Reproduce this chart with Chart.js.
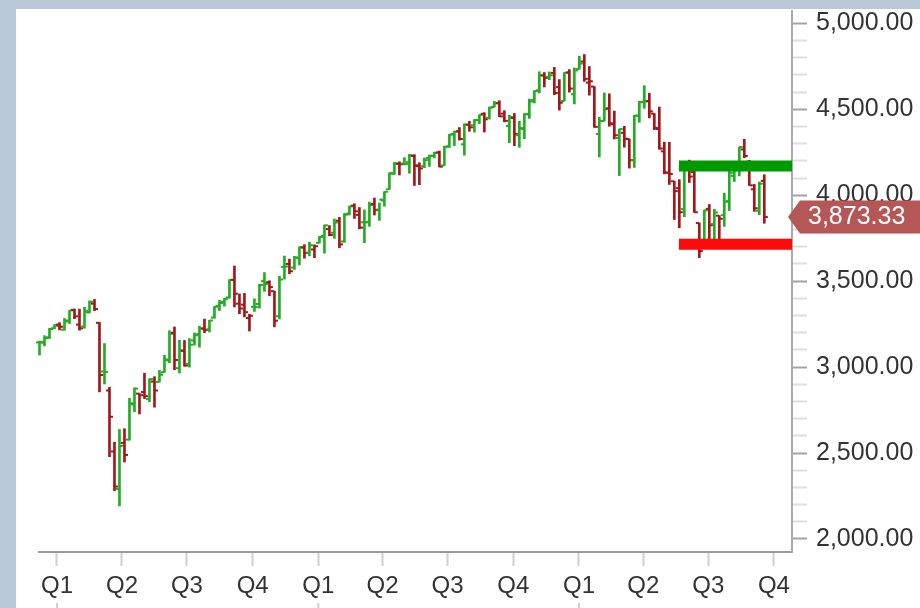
<!DOCTYPE html>
<html>
<head>
<meta charset="utf-8">
<script src="https://cdn.jsdelivr.net/npm/chart.js@4.4.1/dist/chart.umd.min.js"></script>
<style>
    body { margin: 0; background: #b9c9d9; }
    #panel { position: absolute; left: 16px; top: 9px; width: 904px; height: 599px; background: #fff; }
</style>
</head>
<body>
<div id="panel"><canvas id="myChart"></canvas></div>
<script>
// weekly bars, first one is the week ending Friday 2019-12-06
const firstWeek = '2019-12-06';

const opens = [
    3143.85, 3141.86, 3173.15, 3226.05,
    // 2020
    3247.23, 3217.55, 3271.13, 3333.10, 3247.16,
    3235.66, 3318.28, 3369.04, 3257.61,
    2974.28, 2863.89, 2508.59, 2290.71,
    2558.98, 2578.28, 2782.46, 2845.62,
    2854.65, 2815.01, 2915.46, 2913.86, 2969.95,
    3038.78, 3199.92, 2993.76, 3094.42,
    3018.59, 3155.29, 3191.51, 3224.29, 3219.84,
    3288.26, 3356.04, 3380.86, 3405.32,
    3507.44, 3368.95, 3363.56, 3285.57,
    3350.92, 3367.27, 3500.02, 3493.50, 3441.42,
    3296.20, 3583.04, 3600.16, 3579.31,
    3634.18, 3694.73, 3666.41, 3684.28, 3723.03,
    // 2021
    3764.61, 3803.14, 3781.88, 3851.68,
    3731.17, 3892.59, 3939.61, 3885.55,
    3842.51, 3844.39, 3949.57, 3916.48,
    3969.31, 4034.44, 4124.71, 4182.70, 4185.03,
    4191.98, 4228.29, 4169.14, 4168.61,
    4216.52, 4229.34, 4248.87, 4173.40,
    4284.90, 4356.46, 4372.41, 4296.40, 4409.58,
    4406.86, 4437.77, 4474.10, 4450.29,
    4513.76, 4535.38, 4474.81, 4402.95,
    4448.98, 4348.84, 4385.44, 4471.37, 4553.69,
    4610.62, 4697.26, 4689.30, 4712.00,
    4628.75, 4548.37, 4714.84, 4587.90, 4733.99,
    // 2022
    4778.14, 4655.34, 4632.24, 4356.32,
    4431.79, 4505.75, 4412.61, 4332.74,
    4363.14, 4327.01, 4202.75, 4462.40,
    4541.09, 4547.97, 4474.65, 4385.63, 4255.34,
    4130.61, 4081.27, 4041.30, 3919.42,
    4149.78, 4134.72, 3838.15, 3715.31,
    3920.76, 3831.98, 3880.94, 3883.79, 3965.72,
    4112.38, 4155.93, 4266.31, 4195.08,
    4034.58, 3909.43, 4083.67
];
const highs = [
    3150.60, 3182.68, 3225.65, 3247.93,
    3258.85, 3282.99, 3329.88, 3337.77, 3337.58,
    3347.96, 3385.09, 3393.52, 3259.81,
    3136.72, 2882.59, 2562.98, 2637.01,
    2641.39, 2818.57, 2879.22, 2845.62,
    2964.21, 2932.16, 2944.25, 2980.29, 3068.67,
    3211.72, 3233.13, 3155.53, 3154.90,
    3165.81, 3198.59, 3238.28, 3279.32, 3272.17,
    3352.54, 3387.89, 3399.96, 3509.23,
    3588.11, 3425.55, 3428.92, 3306.88,
    3397.18, 3482.34, 3549.85, 3502.42, 3441.42,
    3529.05, 3645.99, 3628.51, 3644.31,
    3699.20, 3712.39, 3726.70, 3711.24, 3760.20,
    3826.69, 3823.60, 3861.45, 3870.90,
    3894.00, 3937.00, 3950.43, 3928.65,
    3914.50, 3960.27, 3983.87, 3955.00,
    4020.63, 4129.48, 4191.31, 4194.17, 4218.78,
    4238.04, 4236.39, 4188.72, 4217.00,
    4233.45, 4249.74, 4257.16, 4286.12,
    4355.01, 4372.51, 4393.68, 4415.18, 4429.97,
    4440.82, 4468.37, 4480.26, 4513.00,
    4545.85, 4549.78, 4492.00, 4465.40,
    4475.82, 4429.97, 4475.00, 4559.67, 4608.08,
    4718.50, 4714.00, 4717.75, 4743.83,
    4672.95, 4713.57, 4731.00, 4740.74, 4808.93,
    4818.62, 4748.83, 4632.24, 4453.23,
    4595.31, 4590.03, 4489.55, 4385.00,
    4401.00, 4327.01, 4465.40, 4546.03,
    4637.30, 4593.45, 4474.65, 4512.94, 4308.45,
    4307.66, 4081.27, 4090.72, 4158.49,
    4204.29, 4168.78, 3838.15, 3913.65,
    3945.86, 3918.50, 3880.94, 4012.44, 4140.15,
    4167.66, 4280.47, 4325.28, 4203.04,
    4062.99, 4076.81, 4119.28
];
const lows = [
    3070.33, 3123.35, 3166.25, 3222.71,
    3216.00, 3214.64, 3253.22, 3281.53, 3214.64,
    3226.00, 3315.19, 3328.45, 2855.84,
    2901.54, 2478.86, 2280.52, 2191.86,
    2447.49, 2575.00, 2740.00, 2727.10,
    2816.78, 2797.85, 2766.64, 2913.86, 2969.95,
    3025.17, 2984.47, 2965.66, 3004.63,
    2999.74, 3127.66, 3115.90, 3200.05, 3204.13,
    3284.53, 3329.00, 3354.69, 3400.56,
    3349.63, 3310.47, 3292.00, 3209.45,
    3323.69, 3343.00, 3440.45, 3415.00, 3233.94,
    3279.74, 3511.91, 3543.00, 3568.00,
    3594.39, 3633.40, 3647.18, 3636.48, 3723.03,
    3662.71, 3764.00, 3749.14, 3694.12,
    3725.60, 3884.94, 3865.00, 3804.00,
    3723.34, 3819.00, 3885.00, 3853.50,
    3936.00, 4034.44, 4122.18, 4118.00, 4176.00,
    4128.00, 4056.88, 4061.41, 4160.00,
    4167.59, 4217.00, 4164.40, 4173.40,
    4278.00, 4289.00, 4321.00, 4233.13, 4372.00,
    4367.00, 4416.00, 4367.73, 4443.00,
    4513.00, 4457.00, 4427.00, 4305.91,
    4288.52, 4278.94, 4329.00, 4447.00, 4537.00,
    4595.00, 4630.00, 4672.00, 4585.00,
    4495.12, 4548.37, 4600.00, 4531.10, 4733.99,
    4662.74, 4582.24, 4395.34, 4222.62,
    4431.79, 4401.41, 4327.22, 4114.65,
    4279.54, 4157.87, 4161.72, 4424.30,
    4506.00, 4450.00, 4381.34, 4267.62, 4124.28,
    4062.51, 3858.87, 3810.32, 3875.13,
    4074.00, 3900.16, 3636.87, 3715.31,
    3738.67, 3742.06, 3721.56, 3818.63, 3911.00,
    4079.81, 4112.09, 4218.70, 4057.66,
    3906.21, 3886.75, 3837.08
];
const closes = [
    3145.91, 3168.80, 3221.22, 3240.02,
    3234.85, 3265.35, 3329.62, 3295.47, 3225.52,
    3327.71, 3380.16, 3337.75, 2954.22,
    2972.37, 2711.02, 2304.92, 2541.47,
    2488.65, 2789.82, 2874.56, 2836.74,
    2830.71, 2929.80, 2863.70, 2955.45, 3044.31,
    3193.93, 3041.31, 3097.74, 3009.05,
    3130.01, 3185.04, 3224.73, 3215.63, 3271.12,
    3351.28, 3372.85, 3397.16, 3508.01,
    3426.96, 3340.97, 3319.47, 3298.46,
    3348.42, 3477.14, 3483.81, 3465.39, 3269.96,
    3509.44, 3585.15, 3557.54, 3638.35,
    3699.12, 3663.46, 3709.41, 3703.06, 3756.07,
    3824.68, 3768.25, 3841.47, 3714.24,
    3886.83, 3934.83, 3906.71, 3811.15,
    3841.94, 3943.34, 3913.10, 3974.54,
    4019.87, 4128.80, 4185.47, 4180.17, 4181.17,
    4232.60, 4173.85, 4155.86, 4204.11,
    4229.89, 4247.44, 4166.45, 4280.70,
    4352.34, 4369.55, 4327.16, 4411.79, 4395.26,
    4436.52, 4468.00, 4441.67, 4509.37,
    4535.43, 4458.58, 4432.99, 4455.48,
    4357.04, 4391.34, 4471.37, 4544.90, 4605.38,
    4697.53, 4682.85, 4697.96, 4594.62,
    4538.43, 4712.02, 4620.64, 4725.79, 4766.18,
    4677.03, 4662.85, 4397.94, 4431.85,
    4500.53, 4418.64, 4348.87, 4384.65,
    4328.87, 4204.31, 4463.12, 4543.06,
    4545.86, 4488.28, 4392.59, 4271.78, 4131.93,
    4123.34, 4023.89, 3901.36, 4158.24,
    4108.54, 3900.86, 3674.84, 3911.74,
    3825.33, 3899.38, 3863.16, 3961.63, 4130.29,
    4145.19, 4280.15, 4228.48, 4057.66,
    3924.26, 4067.36, 3873.33
];

// the two horizontal levels drawn on the right
const resistance = 4170;
const support = 3715;
const levelStart = '2022-05-21';

const quarterStarts = [
    '2020-01-01', '2020-04-01', '2020-07-01', '2020-10-01',
    '2021-01-01', '2021-04-01', '2021-07-01', '2021-10-01',
    '2022-01-01', '2022-04-01', '2022-07-01', '2022-10-01'
];
const quarterLabels = ['Q1', 'Q2', 'Q3', 'Q4', 'Q1', 'Q2', 'Q3', 'Q4', 'Q1', 'Q2', 'Q3', 'Q4'];

const upColor = '#22ad22';
const downColor = '#a3171a';

function dayNumber(s) {
    const p = s.split('-').map(Number);
    return (Date.UTC(p[0], p[1] - 1, p[2]) - Date.UTC(2020, 0, 1)) / 86400000;
}

const xMin = -25.2;
const xMax = 1029.3;

function weekX(i) {
    return dayNumber(firstWeek) + 7 * i + 1.5;
}

var barColors = [];
for (i = 0; i < closes.length; i++) {
    var prev = i == 0 ? opens[0] : closes[i - 1];
    barColors.push(closes[i] >= prev ? upColor : downColor);
}

var yTicks = [];
for (v = 2000; v <= 5000; v += 100) {
    yTicks.push(v);
}

const openCloseTicks = {
    id: 'openCloseTicks',
    afterDatasetDraw(chart, args) {
        if (args.index !== 0) return;
        const ctx = chart.ctx;
        const y = chart.scales.y;
        ctx.save();
        args.meta.data.forEach((bar, i) => {
            ctx.fillStyle = barColors[i];
            ctx.fillRect(bar.x - 3.5, y.getPixelForValue(opens[i]) - 1, 3.5, 2);
            ctx.fillRect(bar.x, y.getPixelForValue(closes[i]) - 1, 3.5, 2);
        });
        ctx.restore();
    }
};

const lastPrice = {
    id: 'lastPrice',
    afterDraw(chart) {
        const ctx = chart.ctx;
        const last = closes[closes.length - 1];
        const y = chart.scales.y.getPixelForValue(last);
        const tip = chart.chartArea.right - 4;
        const w = chart.width;
        ctx.save();
        ctx.fillStyle = '#b55757';
        ctx.beginPath();
        ctx.moveTo(tip, y);
        ctx.lineTo(tip + 12, y - 16.5);
        ctx.lineTo(w, y - 16.5);
        ctx.lineTo(w, y + 16.5);
        ctx.lineTo(tip + 12, y + 16.5);
        ctx.closePath();
        ctx.fill();
        ctx.fillStyle = '#ffffff';
        ctx.font = '25px "Liberation Sans", Arial, sans-serif';
        ctx.textBaseline = 'middle';
        ctx.textAlign = 'left';
        ctx.fillText(last.toLocaleString('en-US', {minimumFractionDigits: 2, maximumFractionDigits: 2}), tip + 20, y);

        // small year marks under the Q1 labels
        const x = chart.scales.x;
        ctx.fillStyle = '#cfcfcf';
        x.ticks.forEach((t, i) => {
            if (i % 4 == 0) {
                ctx.fillRect(x.getPixelForValue(t.value) - 1, chart.height - 5, 2, 5);
            }
        });
        ctx.restore();
    }
};

Chart.defaults.font.family = '"Liberation Sans", Arial, sans-serif';

const data = {
    datasets: [
        {
            type: 'bar',
            data: closes.map((c, i) => ({x: weekX(i), y: [lows[i], highs[i]]})),
            backgroundColor: barColors,
            borderWidth: 0,
            barThickness: 2,
            order: 1,
            clip: false
        },
        {
            type: 'line',
            data: [{x: dayNumber(levelStart), y: resistance}, {x: xMax, y: resistance}],
            borderColor: '#009900',
            borderWidth: 11,
            borderCapStyle: 'butt',
            pointRadius: 0,
            order: 0
        },
        {
            type: 'line',
            data: [{x: dayNumber(levelStart), y: support}, {x: xMax, y: support}],
            borderColor: '#ff0a0a',
            borderWidth: 11,
            borderCapStyle: 'butt',
            pointRadius: 0,
            order: 0
        }
    ]
};

const config = {
    type: 'bar',
    data: data,
    plugins: [openCloseTicks, lastPrice],
    options: {
        responsive: true,
        maintainAspectRatio: false,
        animation: false,
        layout: {
            padding: {left: 23, top: 2, right: 0, bottom: 0}
        },
        plugins: {
            legend: {display: false},
            tooltip: {enabled: false}
        },
        scales: {
            x: {
                type: 'linear',
                position: 'bottom',
                min: xMin,
                max: xMax,
                offset: false,
                bounds: 'data',
                afterBuildTicks: s => { s.ticks = quarterStarts.map(d => ({value: dayNumber(d)})); },
                afterFit: s => { s.height = 56; s.paddingLeft = 0; s.paddingRight = 0; },
                grid: {drawOnChartArea: false, offset: false, tickLength: 14, tickWidth: 2, tickColor: '#cfcfcf'},
                border: {color: '#9a9a9a', width: 2},
                ticks: {
                    autoSkip: false,
                    maxRotation: 0,
                    padding: 6,
                    color: '#333',
                    font: {size: 24},
                    callback: (v, i) => quarterLabels[i]
                }
            },
            y: {
                position: 'right',
                min: 1924,
                max: 5072,
                afterBuildTicks: s => { s.ticks = yTicks.map(v => ({value: v})); },
                afterFit: s => { s.width = 128; s.paddingTop = 0; s.paddingBottom = 0; },
                grid: {
                    drawOnChartArea: false,
                    tickLength: 15,
                    tickWidth: 2,
                    tickColor: c => (c.tick && c.tick.value % 500 === 0) ? '#a3a3a3' : '#dedede'
                },
                border: {color: '#aaaaaa', width: 2},
                ticks: {
                    autoSkip: false,
                    padding: 9,
                    color: '#333',
                    font: {size: 25},
                    callback: v => v % 500 === 0 ? v.toLocaleString('en-US', {minimumFractionDigits: 2, maximumFractionDigits: 2}) : ''
                }
            }
        }
    }
};

window.mychart = new Chart(document.getElementById('myChart'), config);
</script>
</body>
</html>
